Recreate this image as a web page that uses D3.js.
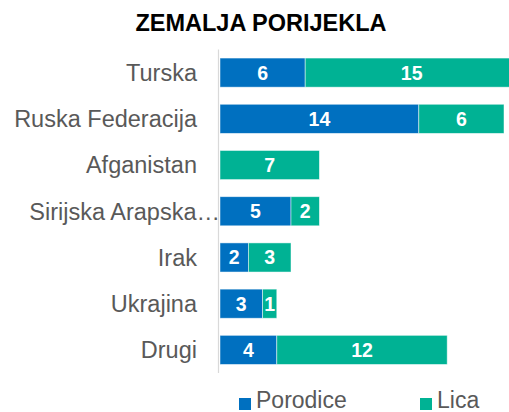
<!DOCTYPE html>
<html>
<head>
<meta charset="utf-8">
<script src="https://cdn.jsdelivr.net/npm/d3@7"></script>
<style>
  body { margin: 0; background: #fff; }
  svg { display: block; font-family: "Liberation Sans", Arial, sans-serif; }
</style>
</head>
<body>
<div id="wrapper"></div>
<script>
// data
const categories = ["Turska", "Ruska Federacija", "Afganistan", "Sirijska Arapska…", "Irak", "Ukrajina", "Drugi"]
const porodice = [6, 14, 0, 5, 2, 3, 4]
const lica = [15, 6, 7, 2, 3, 1, 12]
const seriesNames = ["Porodice", "Lica"]
const colors = ["#0070c0", "#00b294"]

const width = 509
const height = 412

const wrapper = d3.select("#wrapper")
    .append("svg")
    .attr("width", width)
    .attr("height", height)

const x = d3.scaleLinear()
    .domain([0, 20])
    .range([220, 504])

const y = d3.scaleBand()
    .domain(categories)
    .range([49.5, 373])
    .paddingInner(0.37)
    .paddingOuter(0.185)

// title
wrapper.append("text")
    .attr("x", 261)
    .attr("y", 31)
    .attr("text-anchor", "middle")
    .attr("font-size", "23.5px")
    .attr("font-weight", "bold")
    .attr("fill", "#000")
    .text("ZEMALJA PORIJEKLA")

// stacked rows
const rows = categories.map((c, i) => ({ cat: c, values: [porodice[i], lica[i]] }))

rows.forEach(row => {
    let start = 0
    row.values.forEach((v, k) => {
        if (v > 0) {
            const g = wrapper.append("g")
            g.append("rect")
                .attr("x", x(start))
                .attr("y", y(row.cat))
                .attr("width", x(start + v) - x(start))
                .attr("height", y.bandwidth())
                .attr("fill", colors[k])
                .attr("stroke", "#ffffff")
                .attr("stroke-opacity", 0.6)
                .attr("stroke-width", 0.8)
            g.append("text")
                .attr("x", (x(start) + x(start + v)) / 2)
                .attr("y", y(row.cat) + y.bandwidth() / 2)
                .attr("dy", "0.36em")
                .attr("text-anchor", "middle")
                .attr("font-size", "19.5px")
                .attr("font-weight", "bold")
                .attr("fill", "#fff")
                .text(v)
        }
        start += v
    })
})

// category axis
wrapper.append("line")
    .attr("x1", 218.5)
    .attr("x2", 218.5)
    .attr("y1", 49.5)
    .attr("y2", 373)
    .attr("stroke", "#d9d9d9")
    .attr("stroke-width", 1.2)

wrapper.selectAll(".cat")
    .data(categories)
    .join("text")
    .attr("class", "cat")
    .attr("x", d => d.endsWith("…") ? 220 : 197)
    .attr("y", d => y(d) + y.bandwidth() / 2)
    .attr("dy", "0.36em")
    .attr("text-anchor", "end")
    .attr("font-size", "23.5px")
    .attr("fill", "#595959")
    .text(d => d)

// legend
const legendX = [239, 420]
seriesNames.forEach((s, k) => {
    wrapper.append("rect")
        .attr("x", legendX[k])
        .attr("y", 398)
        .attr("width", 12)
        .attr("height", 12)
        .attr("fill", colors[k])
    wrapper.append("text")
        .attr("x", legendX[k] + 17)
        .attr("y", 408)
        .attr("font-size", "23px")
        .attr("fill", "#595959")
        .text(s)
})
</script>
</body>
</html>
